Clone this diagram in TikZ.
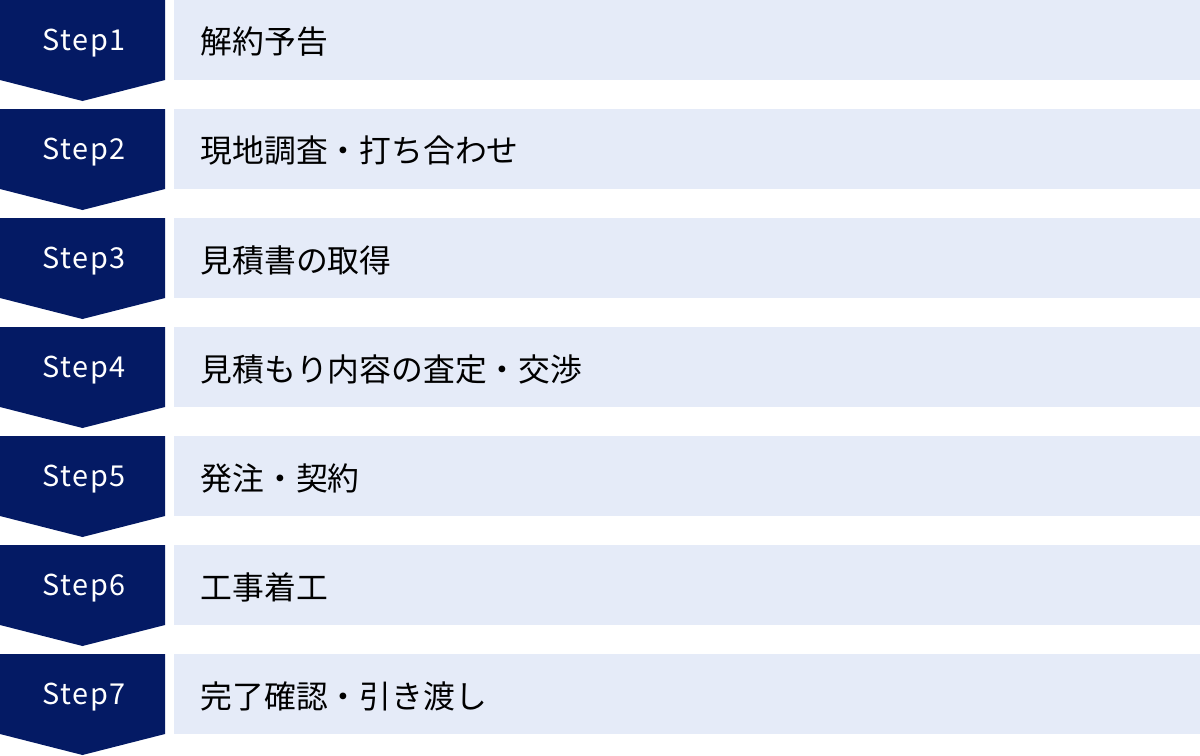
\documentclass[tikz,border=0pt]{standalone}
\usepackage{fontspec}
\setmainfont{Noto Sans CJK JP}
\newfontfamily\stepfont[LetterSpace=6]{Noto Sans CJK JP}
\definecolor{navy}{HTML}{041A64}
\definecolor{paleblue}{HTML}{E5EBF8}
\tikzset{
  steplabel/.style={text=white, font=\stepfont\fontsize{8.2}{9}\selectfont},
  tasklabel/.style={anchor=west, inner sep=0pt, font=\fontsize{9.05}{10}\selectfont}
}
\begin{document}
\begin{tikzpicture}
      \useasboundingbox (0, 0) rectangle (12, -7.56);
      % step arrows
      \fill[navy] (0, 0) -- (1.65, 0) -- (1.65, -0.8) -- (0.825, -1.01) -- (0, -0.8) -- cycle;
      \fill[navy] (0, -1.09) -- (1.65, -1.09) -- (1.65, -1.89) -- (0.825, -2.1) -- (0, -1.89) -- cycle;
      \fill[navy] (0, -2.18) -- (1.65, -2.18) -- (1.65, -2.98) -- (0.825, -3.19) -- (0, -2.98) -- cycle;
      \fill[navy] (0, -3.27) -- (1.65, -3.27) -- (1.65, -4.07) -- (0.825, -4.28) -- (0, -4.07) -- cycle;
      \fill[navy] (0, -4.36) -- (1.65, -4.36) -- (1.65, -5.16) -- (0.825, -5.37) -- (0, -5.16) -- cycle;
      \fill[navy] (0, -5.45) -- (1.65, -5.45) -- (1.65, -6.25) -- (0.825, -6.46) -- (0, -6.25) -- cycle;
      \fill[navy] (0, -6.54) -- (1.65, -6.54) -- (1.65, -7.34) -- (0.825, -7.55) -- (0, -7.34) -- cycle;
      % task bars
      \fill[paleblue] (1.74, 0) rectangle (12, -0.8);
      \fill[paleblue] (1.74, -1.09) rectangle (12, -1.89);
      \fill[paleblue] (1.74, -2.18) rectangle (12, -2.98);
      \fill[paleblue] (1.74, -3.27) rectangle (12, -4.07);
      \fill[paleblue] (1.74, -4.36) rectangle (12, -5.16);
      \fill[paleblue] (1.74, -5.45) rectangle (12, -6.25);
      \fill[paleblue] (1.74, -6.54) rectangle (12, -7.34);
      \node[steplabel] (s1) at (0.84, -0.43) {Step1};
      \node[steplabel] (s2) at (0.84, -1.52) {Step2};
      \node[steplabel] (s3) at (0.84, -2.61) {Step3};
      \node[steplabel] (s4) at (0.84, -3.7) {Step4};
      \node[steplabel] (s5) at (0.84, -4.79) {Step5};
      \node[steplabel] (s6) at (0.84, -5.88) {Step6};
      \node[steplabel] (s7) at (0.84, -6.97) {Step7};
      \node[tasklabel] (t1) at (2.0, -0.42) {解約予告};
      \node[tasklabel] (t2) at (2.0, -1.51) {現地調査・打ち合わせ};
      \node[tasklabel] (t3) at (2.0, -2.6) {見積書の取得};
      \node[tasklabel] (t4) at (2.0, -3.69) {見積もり内容の査定・交渉};
      \node[tasklabel] (t5) at (2.0, -4.78) {発注・契約};
      \node[tasklabel] (t6) at (2.0, -5.87) {工事着工};
      \node[tasklabel] (t7) at (2.0, -6.96) {完了確認・引き渡し};
\end{tikzpicture}
\end{document}
